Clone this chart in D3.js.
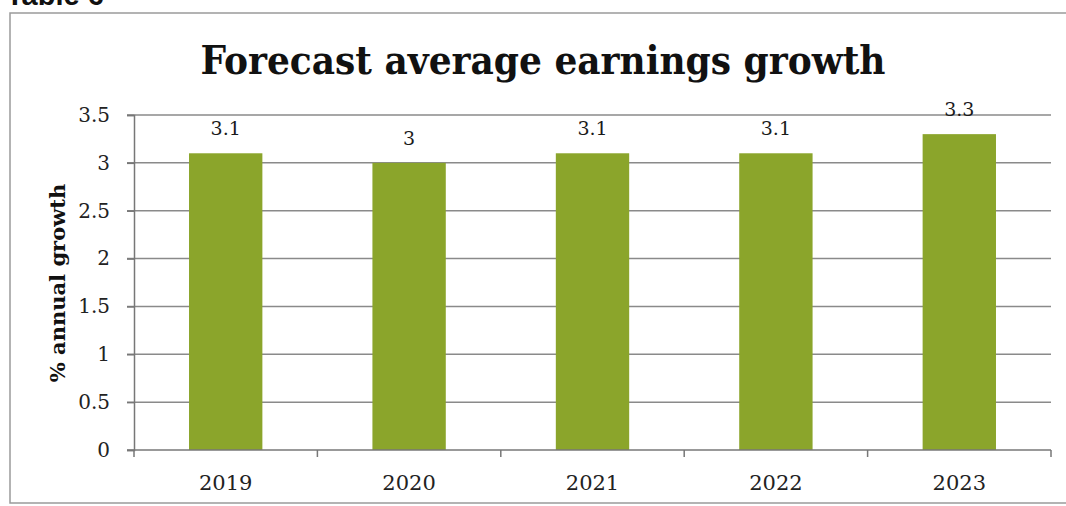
<!DOCTYPE html>
<html><head><meta charset="utf-8">
<script src="https://cdn.jsdelivr.net/npm/d3@7"></script>
<style>html,body{margin:0;padding:0;background:#fff;}svg{display:block;}</style>
</head><body>
<svg id="c" width="1066" height="506"></svg>
<script>
const categories = ["2019","2020","2021","2022","2023"];
const values = [3.1, 3, 3.1, 3.1, 3.3];
const yTicks = [0, 0.5, 1, 1.5, 2, 2.5, 3, 3.5];
const titleText = "Forecast average earnings growth";
const yLabel = "% annual growth";

const svg = d3.select("#c");
const serif = "'DejaVu Serif','Liberation Serif',serif";
const serifCond = "'DejaVu Serif Condensed','DejaVu Serif','Liberation Serif',serif";
const pL = 134, pR = 1051, pT = 115, pB = 450;

// page caption (cropped at top edge, as in the scan)
svg.append("text").attr("x", 6).attr("y", 5).attr("font-family", "'Liberation Sans',Arial,sans-serif")
  .attr("font-weight", "bold").attr("font-size", 29).attr("fill", "#111").text("Table 6");

// outer border
svg.append("rect").attr("x", 10).attr("y", 13).attr("width", 1070).attr("height", 490)
  .attr("fill", "none").attr("stroke", "#9a9a9a").attr("stroke-width", 1.5);

const x = d3.scaleBand().domain(categories).range([pL, pR]).paddingInner(0.6).paddingOuter(0.3);
const xb = d3.scaleBand().domain(categories).range([pL, pR]);
const y = d3.scaleLinear().domain([0, 3.5]).range([pB, pT]);

// gridlines
svg.append("g").selectAll("line").data(yTicks.filter(d => d > 0)).join("line")
  .attr("x1", pL - 7).attr("x2", pR).attr("y1", d => y(d)).attr("y2", d => y(d))
  .attr("stroke", "#8a8a8a").attr("stroke-width", 1.5);

// bars
svg.append("g").selectAll("rect").data(values).join("rect")
  .attr("x", (d, i) => x(categories[i])).attr("width", x.bandwidth())
  .attr("y", d => y(d)).attr("height", d => y(0) - y(d))
  .attr("fill", "#8ba52b");

// y axis
const ya = svg.append("g").attr("transform", `translate(${pL},0)`)
  .call(d3.axisLeft(y).tickValues(yTicks).tickSize(7).tickFormat(d3.format("")));
ya.selectAll("path,line").attr("stroke", "#777").attr("stroke-width", 1.5);
ya.selectAll("text").attr("font-family", serif).attr("font-size", 20).attr("fill", "#222").attr("x", -24);

// x axis
const xa = svg.append("g").attr("transform", `translate(0,${pB})`);
xa.append("line").attr("x1", pL - 7).attr("x2", pR).attr("y1", 0).attr("y2", 0)
  .attr("stroke", "#777").attr("stroke-width", 1.5);
xa.selectAll("line.t").data(categories.map(c => xb(c)).concat([pR])).join("line").attr("class", "t")
  .attr("x1", d => d).attr("x2", d => d).attr("y1", 0).attr("y2", 7)
  .attr("stroke", "#777").attr("stroke-width", 1.5);
xa.selectAll("text").data(categories).join("text")
  .attr("x", d => xb(d) + xb.bandwidth() / 2).attr("y", 40)
  .attr("text-anchor", "middle").attr("font-family", serif).attr("font-size", 21).attr("fill", "#222")
  .text(d => d);

// data labels
svg.append("g").selectAll("text").data(values).join("text")
  .attr("x", (d, i) => x(categories[i]) + x.bandwidth() / 2).attr("y", d => y(d) - 18)
  .attr("text-anchor", "middle").attr("font-family", serif).attr("font-size", 19).attr("fill", "#1a1a1a")
  .text(d => d);

// title
svg.append("text").attr("x", 543).attr("y", 74).attr("text-anchor", "middle")
  .attr("font-family", serifCond).style("font-stretch", "condensed")
  .attr("font-weight", "bold").attr("font-size", 40).attr("fill", "#111")
  .text(titleText);

// y label
svg.append("text").attr("transform", "translate(65,283) rotate(-90)").attr("text-anchor", "middle")
  .attr("font-family", serif).attr("font-weight", "bold").attr("font-size", 21).attr("fill", "#111")
  .text(yLabel);
</script>
</body></html>
